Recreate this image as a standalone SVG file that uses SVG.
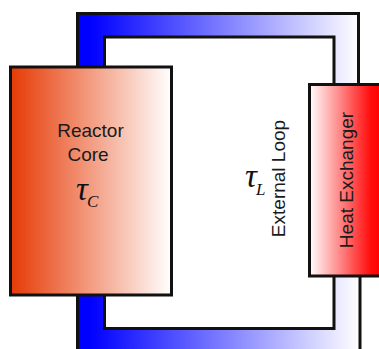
<svg xmlns="http://www.w3.org/2000/svg" width="379" height="349" viewBox="0 0 379 349">
<style>
.o{stroke:#111;stroke-width:3;fill:none}
.b{stroke:#111;stroke-width:3}
.t{font-family:"Liberation Sans",Arial,sans-serif;font-size:19px;fill:#1a1a1a;text-anchor:middle}
.g{font-family:"Liberation Serif","Times New Roman",serif;font-style:italic;fill:#111}
</style>
<defs>
<linearGradient id="pipe" gradientUnits="userSpaceOnUse" x1="90" y1="0" x2="360" y2="0">
<stop offset="0" stop-color="#0000ff"/><stop offset="1" stop-color="#ffffff"/>
</linearGradient>
<linearGradient id="core" x1="0" y1="0" x2="1" y2="0">
<stop offset="0" stop-color="#e63a05"/><stop offset="1" stop-color="#ffffff"/>
</linearGradient>
<linearGradient id="hx" x1="0" y1="0" x2="1" y2="0">
<stop offset="0" stop-color="#ffffff"/><stop offset="0.85" stop-color="#ff0d0d"/><stop offset="1" stop-color="#ff0000"/>
</linearGradient>
</defs>
<g id="connectors">
<path fill="url(#pipe)" d="M77 14H359V84H334V37H104V67H77Z"/>
<path fill="url(#pipe)" d="M77 295H104V328H334V276H360V349H77Z"/>
<path class="o" d="M77.500 67V13.500H358.500V84M104.500 67V37H334V84"/>
<path class="o" d="M77.500 295V349M104.500 295V328.500H334V276M360 276V349"/>
</g>
<g id="reactor-core">
<rect class="b" x="10.500" y="67" width="161" height="228" fill="url(#core)"/>
<text class="t" x="90.500" y="137">Reactor</text>
<text class="t" x="88" y="161">Core</text>
<text class="g" x="76" y="200" font-size="33">τ</text>
<text class="g" x="87" y="207" font-size="17">C</text>
</g>
<g id="heat-exchanger">
<rect class="b" x="309.500" y="84.500" width="72" height="191.500" fill="url(#hx)"/>
<text class="t" x="352.500" y="180" transform="rotate(-90 352.500 180)">Heat Exchanger</text>
</g>
<g id="external-loop">
<text class="t" x="285" y="178.500" transform="rotate(-90 285 178.500)">External Loop</text>
<text class="g" x="245" y="187" font-size="33">τ</text>
<text class="g" x="256" y="195" font-size="17">L</text>
</g>
</svg>
